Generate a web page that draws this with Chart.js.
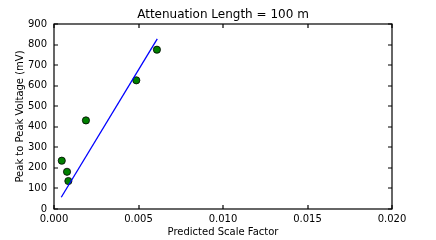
<!DOCTYPE html>
<html lang="en">
<head>
<meta charset="UTF-8">
<title>Attenuation Length = 100 m</title>
<script src="https://cdn.jsdelivr.net/npm/chart.js"></script>
<style>
    html, body { margin: 0; padding: 0; background: #fff; }
    #wrap { width: 436px; height: 240px; }
</style>
</head>
<body>
<div id="wrap"><canvas id="chart"></canvas></div>
<script>
// measured points
const scaleFactor = [0.00046, 0.00077, 0.00085, 0.00189, 0.00487, 0.00609];
const voltage = [235, 181, 136, 431, 626, 775];

// fitted line end points
const fitX = [0.00043, 0.00611];
const fitY = [57, 828];

const xTicks = [0, 0.005, 0.010, 0.015, 0.020];
const yTicks = [0, 100, 200, 300, 400, 500, 600, 700, 800, 900];

const titleText = 'Attenuation Length = 100 m';
const font = 'DejaVu Sans';

// matplotlib-style frame with inward ticks on all four sides, plus the title
const framePlugin = {
    id: 'frame',
    afterDraw(chart) {
        const { ctx, chartArea: a, scales } = chart;
        const len = 4;
        ctx.save();
        ctx.strokeStyle = '#000';
        ctx.lineWidth = 1.2;
        ctx.strokeRect(a.left, a.top, a.right - a.left, a.bottom - a.top);
        ctx.beginPath();
        xTicks.forEach(v => {
            const px = Math.round(scales.x.getPixelForValue(v));
            ctx.moveTo(px, a.bottom); ctx.lineTo(px, a.bottom - len);
            ctx.moveTo(px, a.top); ctx.lineTo(px, a.top + len);
        });
        yTicks.forEach(v => {
            const py = Math.round(scales.y.getPixelForValue(v));
            ctx.moveTo(a.left, py); ctx.lineTo(a.left + len, py);
            ctx.moveTo(a.right, py); ctx.lineTo(a.right - len, py);
        });
        ctx.stroke();

        ctx.fillStyle = '#000';
        ctx.font = '12px "' + font + '"';
        ctx.textAlign = 'center';
        ctx.textBaseline = 'alphabetic';
        ctx.fillText(titleText, (a.left + a.right) / 2, 18);
        ctx.restore();
    }
};

new Chart(document.getElementById('chart'), {
    type: 'scatter',
    data: {
        datasets: [{
            label: 'fit',
            type: 'line',
            data: fitX.map((x, i) => ({ x, y: fitY[i] })),
            borderColor: '#0000ff',
            borderWidth: 1.3,
            pointRadius: 0,
            fill: false
        }, {
            label: 'data',
            data: scaleFactor.map((x, i) => ({ x, y: voltage[i] })),
            backgroundColor: '#008000',
            borderColor: '#000',
            borderWidth: 0.8,
            pointRadius: 3.6
        }]
    },
    options: {
        responsive: true,
        maintainAspectRatio: false,
        animation: false,
        layout: { padding: { left: 14, right: 44, top: 24, bottom: 1 } },
        plugins: {
            legend: { display: false },
            tooltip: { enabled: false },
            title: { display: false }
        },
        scales: {
            x: {
                type: 'linear',
                min: 0, max: 0.02,
                grid: { display: false, drawTicks: false },
                border: { display: false },
                afterFit: s => { s.height = 240 - 209 - 1; },
                ticks: {
                    stepSize: 0.005,
                    color: '#000',
                    padding: 4,
                    maxRotation: 0,
                    font: { family: font, size: 10 },
                    callback: v => v.toFixed(3)
                },
                title: {
                    display: true,
                    text: 'Predicted Scale Factor',
                    color: '#000',
                    font: { family: font, size: 10 },
                    padding: { top: 2, bottom: 1 }
                }
            },
            y: {
                min: 0, max: 900,
                grid: { display: false, drawTicks: false },
                border: { display: false },
                afterFit: s => { s.width = 54 - 14; },
                ticks: {
                    stepSize: 100,
                    color: '#000',
                    padding: 7,
                    font: { family: font, size: 10 }
                },
                title: {
                    display: true,
                    text: 'Peak to Peak Voltage (mV)',
                    color: '#000',
                    font: { family: font, size: 10 },
                    padding: { top: 0, bottom: 4 }
                }
            }
        }
    },
    plugins: [framePlugin]
});
</script>
</body>
</html>
